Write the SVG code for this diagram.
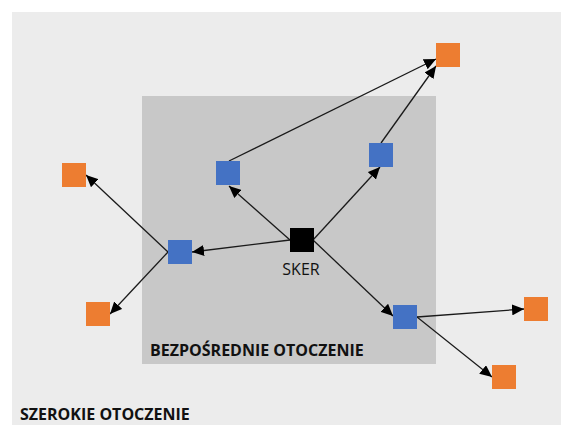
<svg xmlns="http://www.w3.org/2000/svg" width="561" height="425" viewBox="0 0 561 425">
<style>
.blue{fill:#4472c4}
.orange{fill:#ed7d31}
.core{fill:#000}
.conn{stroke:#1a1a1a;stroke-width:1.3;fill:none;marker-end:url(#arr)}
.lbl{font-family:"Open Sans","Liberation Sans",sans-serif;fill:#111}
</style>
<defs>
<marker id="arr" markerUnits="userSpaceOnUse" markerWidth="13" markerHeight="11" refX="12" refY="5.5" orient="auto">
<path d="M0,0 L12,5.5 L0,11 z" fill="#000"/>
</marker>
</defs>
<rect width="561" height="425" fill="#fff"/>
<g id="szerokie">
<rect x="12" y="12" width="549" height="413" fill="#ececec"/>
<text class="lbl" x="20" y="420" font-size="16" font-weight="bold">SZEROKIE OTOCZENIE</text>
</g>
<g id="bezposrednie">
<rect x="142" y="96" width="294" height="268" fill="#c8c8c8"/>
<text class="lbl" x="150" y="356" font-size="16" font-weight="bold">BEZPOŚREDNIE OTOCZENIE</text>
</g>
<g id="connectors">
<line class="conn" x1="290" y1="240" x2="229" y2="186"/>
<line class="conn" x1="290" y1="240" x2="192" y2="252"/>
<line class="conn" x1="313" y1="240" x2="380" y2="167"/>
<line class="conn" x1="313" y1="240" x2="393" y2="316"/>
<line class="conn" x1="229" y1="161" x2="436" y2="59"/>
<line class="conn" x1="381" y1="143" x2="436" y2="66"/>
<line class="conn" x1="168" y1="252" x2="86" y2="175"/>
<line class="conn" x1="168" y1="252" x2="110" y2="314"/>
<line class="conn" x1="417" y1="317" x2="524" y2="309"/>
<line class="conn" x1="417" y1="317" x2="492" y2="377"/>
</g>
<g id="sker">
<rect class="core" x="290" y="228" width="24" height="24"/>
<text class="lbl" x="301" y="275" font-size="16" text-anchor="middle">SKER</text>
</g>
<g id="blue-tl"><rect class="blue" x="216" y="161" width="24" height="24"/></g>
<g id="blue-tr"><rect class="blue" x="369" y="143" width="24" height="24"/></g>
<g id="blue-l"><rect class="blue" x="168" y="240" width="24" height="24"/></g>
<g id="blue-br"><rect class="blue" x="393" y="305" width="24" height="24"/></g>
<g id="orange-top"><rect class="orange" x="436" y="43" width="24" height="24"/></g>
<g id="orange-tl"><rect class="orange" x="62" y="163" width="24" height="24"/></g>
<g id="orange-bl"><rect class="orange" x="86" y="302" width="24" height="24"/></g>
<g id="orange-r"><rect class="orange" x="524" y="297" width="24" height="24"/></g>
<g id="orange-b"><rect class="orange" x="492" y="365" width="24" height="24"/></g>
</svg>
